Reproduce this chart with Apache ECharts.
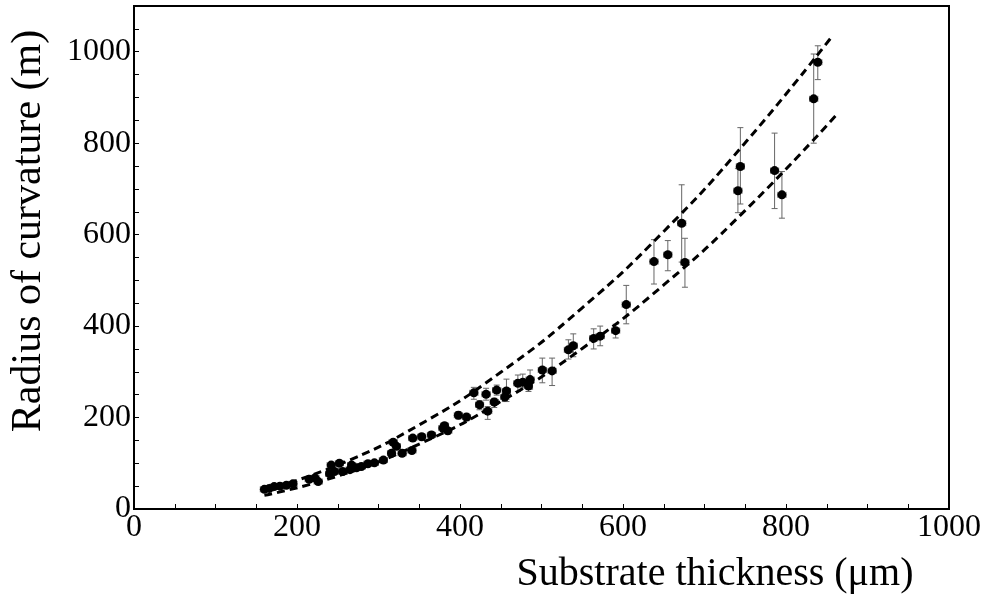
<!DOCTYPE html>
<html>
<head>
<meta charset="utf-8">
<script src="https://cdn.jsdelivr.net/npm/echarts@6/dist/echarts.min.js"></script>
<style>html,body{margin:0;padding:0;background:#fff}#c{width:991px;height:594px}</style>
</head>
<body>
<div id="c"></div>
<script>
// Measured points: thickness (µm), radius (m), lower/upper ends of y error bar, x half-error
var thickness = [160,166,172,179,187,195,215,222,226,240,242,246,252,256,265,267,273,279,287,295,306,316,318,322,329,341,342,353,365,379,381,385,398,408,417,424,432,434,442,445,455,457,471,477,484,486,501,513,533,539,564,572,591,604,638,655,672,676,741,744,786,795,834,839];
var radius    = [43,45,49,50,52,55,65,68,60,77,96,82,100,82,86,96,90,93,99,101,107,122,146,137,122,128,155,158,162,177,182,171,205,201,254,228,251,214,234,260,245,258,275,277,269,283,304,302,348,357,373,378,390,447,541,556,625,539,696,749,740,687,897,977];
var radiusLow = [39,41,45,46,48,51,61,64,56,72,91,77,95,77,81,91,85,88,94,96,101,116,140,131,116,122,149,151,155,170,175,164,197,193,240,217,238,196,222,249,235,235,257,265,257,262,276,270,328,333,350,357,374,405,492,521,540,485,648,667,657,636,800,939];
var radiusHigh= [47,49,53,54,56,59,69,72,64,82,101,87,105,87,91,101,95,98,104,106,113,128,152,143,128,134,161,165,169,184,189,178,213,209,266,237,264,224,242,271,262,284,293,295,285,304,330,330,370,383,394,400,404,489,589,587,709,592,745,834,822,738,995,1013];
var xErr = 5;
// Dashed fit curves
var upperCurveX = [160,250,350,450,550,650,750,858];
var upperCurveY = [41,96,184,299,440,607,801,1037];
var lowerCurveX = [160,250,350,450,550,650,750,862];
var lowerCurveY = [30,72,142,235,351,490,653,862];
var xTicks = [0,200,400,600,800,1000];
var yTicks = [0,200,400,600,800,1000];

var FONT = '"Liberation Serif","Times New Roman",serif';
var points = thickness.map(function(t,i){return [t, radius[i]];});
var bars = thickness.map(function(t,i){return [t, radius[i], radiusLow[i], radiusHigh[i], xErr];});
var upper = upperCurveX.map(function(x,i){return [x, upperCurveY[i]];});
var lower = lowerCurveX.map(function(x,i){return [x, lowerCurveY[i]];});

var chart = echarts.init(document.getElementById('c'), null, {renderer:'canvas'});
chart.setOption({
  animation:false,
  backgroundColor:'#fff',
  grid:{left:134, right:42, top:6, bottom:85, show:true, borderColor:'#000', borderWidth:2, backgroundColor:'transparent'},
  xAxis:{type:'value', min:0, max:1000, interval:50,
    axisLine:{show:true, onZero:false, lineStyle:{color:'#000', width:2}},
    axisTick:{show:true, inside:true, length:5, lineStyle:{color:'#000', width:1}},
    splitLine:{show:false},
    axisLabel:{color:'#000', fontFamily:FONT, fontSize:32, margin:3,
      formatter:function(v){return xTicks.indexOf(v)>=0 ? String(v) : '';}}
  },
  yAxis:{type:'value', min:0, max:1100, interval:50,
    axisLine:{show:true, onZero:false, lineStyle:{color:'#000', width:2}},
    axisTick:{show:true, inside:true, length:5, lineStyle:{color:'#000', width:1}},
    splitLine:{show:false},
    axisLabel:{color:'#000', fontFamily:FONT, fontSize:32, margin:3,
      formatter:function(v){return yTicks.indexOf(v)>=0 ? String(v) : '';}}
  },
  graphic:[
    {type:'text', x:715, y:574, style:{text:'Substrate thickness (\u03bcm)', font:'40px '+FONT, fill:'#000', textAlign:'center', textVerticalAlign:'middle'}},
    {type:'text', x:29, y:231, rotation:Math.PI/2, style:{text:'Radius of curvature (m)', font:'42px '+FONT, fill:'#000', textAlign:'center', textVerticalAlign:'middle'}}
  ],
  series:[
    {type:'custom', data:bars, z:2,
      renderItem:function(params, api){
        var x=api.value(0), y=api.value(1), lo=api.value(2), hi=api.value(3), xe=api.value(4);
        var pHi=api.coord([x,hi]), pLo=api.coord([x,lo]);
        var pL=api.coord([x-xe,y]), pR=api.coord([x+xe,y]);
        var c=3, st={stroke:'#666', lineWidth:1};
        return {type:'group', children:[
          {type:'line', shape:{x1:pHi[0],y1:pHi[1],x2:pLo[0],y2:pLo[1]}, style:st},
          {type:'line', shape:{x1:pHi[0]-c,y1:pHi[1],x2:pHi[0]+c,y2:pHi[1]}, style:st},
          {type:'line', shape:{x1:pLo[0]-c,y1:pLo[1],x2:pLo[0]+c,y2:pLo[1]}, style:st},
          {type:'line', shape:{x1:pL[0],y1:pL[1],x2:pR[0],y2:pR[1]}, style:st},
          {type:'line', shape:{x1:pL[0],y1:pL[1]-c,x2:pL[0],y2:pL[1]+c}, style:st},
          {type:'line', shape:{x1:pR[0],y1:pR[1]-c,x2:pR[0],y2:pR[1]+c}, style:st}
        ]};
      }
    },
    {type:'scatter', data:points, symbol:'circle', symbolSize:9, itemStyle:{color:'#000', opacity:1}, z:3},
    {type:'line', data:upper, smooth:true, showSymbol:false, z:4,
      lineStyle:{color:'#000', width:3, type:[8,5]}},
    {type:'line', data:lower, smooth:true, showSymbol:false, z:4,
      lineStyle:{color:'#000', width:3, type:[8,5]}}
  ]
});
</script>
</body>
</html>
